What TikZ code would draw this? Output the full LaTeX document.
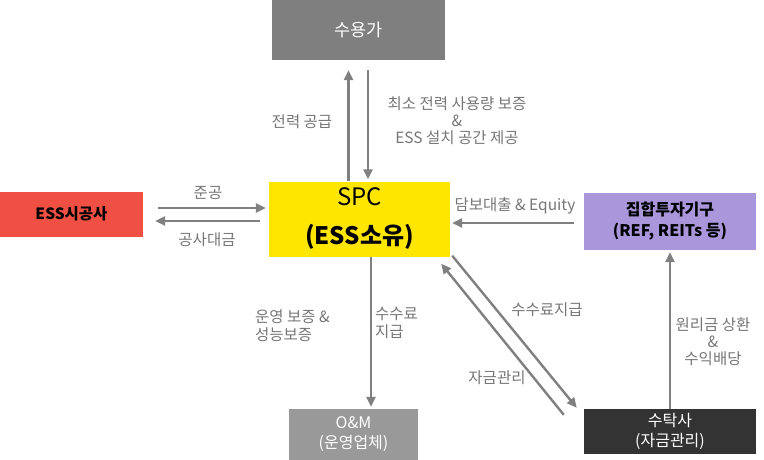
\documentclass[tikz,border=0pt]{standalone}
\usepackage{fontspec}
\setmainfont{Noto Sans CJK KR}
\usetikzlibrary{arrows.meta}
\definecolor{usergray}{RGB}{127,127,127}
\definecolor{omgray}{RGB}{153,153,153}
\definecolor{trustdark}{RGB}{51,51,51}
\definecolor{builderred}{RGB}{240,80,68}
\definecolor{spcyellow}{RGB}{255,230,0}
\definecolor{fundpurple}{RGB}{170,150,218}
\definecolor{arrowgray}{RGB}{128,128,128}
\definecolor{textgray}{RGB}{118,118,118}
\newcommand{\lblsize}{\fontsize{15.5}{18}\selectfont}
\newcommand{\boxsize}{\fontsize{16}{20}\selectfont}

\begin{document}
\begin{tikzpicture}[x=1pt, y=-1pt,
  box/.style={inner sep=0pt, align=center, font=\boxsize},
  flow/.style={draw=arrowgray, line width=2.4pt, -{Triangle[length=10pt,width=9pt]}},
  lbl/.style={text=textgray, font=\lblsize, align=center, inner sep=0pt}]
\useasboundingbox (0,0) rectangle (764,460);
% boxes
\node[box, fill=usergray, text=white, minimum width=173pt, minimum height=60pt, font=\fontsize{17.5}{20}\selectfont] (demand) at (358.5,30) {수용가};
\node[box, fill=builderred, minimum width=143pt, minimum height=45pt, font=\fontsize{15.5}{20}\selectfont\bfseries] (builder) at (71.5,214) {ESS시공사};
\node[box, fill=spcyellow, minimum width=181pt, minimum height=75pt, font=\fontsize{24}{26}\selectfont] (spc) at (359.5,219) {SPC\\[13pt]\textbf{(ESS소유)}};
\node[box, fill=fundpurple, minimum width=172pt, minimum height=57pt, font=\fontsize{16}{21}\selectfont\bfseries] (fund) at (670,221.5) {집합투자기구\\(REF, REITs 등)};
\node[box, fill=omgray, text=white, minimum width=129pt, minimum height=51pt] (om) at (353.5,434.5) {O\&M\\(운영업체)};
\node[box, fill=trustdark, text=white, minimum width=172pt, minimum height=45pt] (trustee) at (670,431.5) {수탁사\\(자금관리)};
% connectors
\draw[flow, shorten >=10pt] ([xshift=-11pt]spc.north) -- ([xshift=-11pt]spc.north |- demand.south);
\draw[flow, shorten <=10pt, shorten >=2pt] ([xshift=8.5pt]spc.north |- demand.south) -- ([xshift=8.5pt]spc.north);
\draw[flow, shorten <=15pt, shorten >=3pt] ([yshift=6pt]builder.east) -- ([yshift=6pt]builder.east -| spc.west);
\draw[flow, shorten <=9pt, shorten >=12pt] ([yshift=-7pt]builder.east -| spc.west) -- ([yshift=-7pt]builder.east);
\draw[flow, shorten <=10pt, shorten >=2pt] ([yshift=-1.5pt]fund.west) -- ([yshift=-1.5pt]fund.west -| spc.east);
\draw[flow, shorten >=2pt] ([xshift=11.5pt]spc.south) -- ([xshift=11.5pt]spc.south |- om.north);
\draw[flow] ([shift={(2pt,1pt)}]spc.south east) -- ([shift={(-7pt,1pt)}]trustee.north west);
\draw[flow] ([shift={(-20pt,-6pt)}]trustee.north west) -- ([shift={(-9pt,-7pt)}]spc.south east);
\draw[flow, shorten >=2pt] (trustee.north) -- (fund.south);
% labels
\node[lbl] (supply) at (302,122) {전력 공급};
\node[lbl] (guarantee) at (457,121) {최소 전력 사용량 보증\\[-1pt]\&\\[-1pt]ESS 설치 공간 제공};
\node[lbl] (done) at (208,193) {준공};
\node[lbl] (cost) at (207,240) {공사대금};
\node[lbl] (loan) at (515,206) {담보대출 \& Equity};
\node[lbl, anchor=west, align=left] (perform) at (255,326) {운영 보증 \&\\성능보증};
\node[lbl, anchor=west, align=left] (omfee) at (375,323) {수수료\\지급};
\node[lbl] (trustfee) at (547,310) {수수료지급};
\node[lbl] (manage) at (497,378) {자금관리};
\node[lbl] (repay) at (713,342) {원리금 상환\\[-1pt]\&\\[-1pt]수익배당};
\end{tikzpicture}
\end{document}
